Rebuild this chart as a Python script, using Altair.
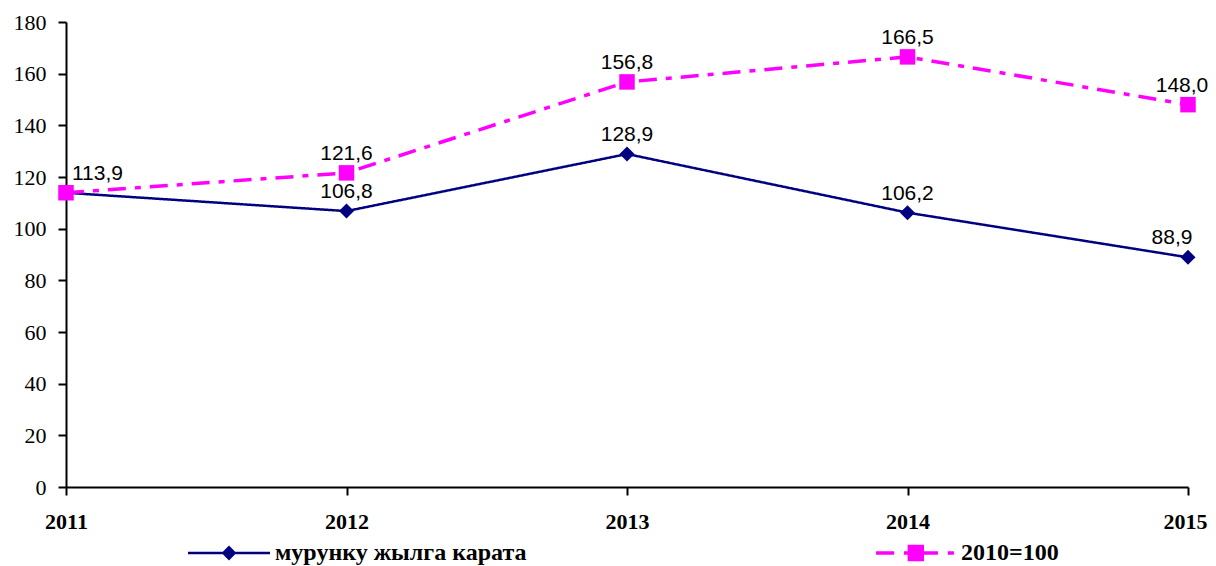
import altair as alt
import pandas as pd

years = ["2011", "2012", "2013", "2014", "2015"]
series_names = ["мурунку жылга карата", "2010=100"]
prev_year = [113.9, 106.8, 128.9, 106.2, 88.9]
base_2010 = [113.9, 121.6, 156.8, 166.5, 148.0]
y_ticks = [0, 20, 40, 60, 80, 100, 120, 140, 160, 180]

rows = []
for i, y in enumerate(years):
    rows.append({"year": y, "value": prev_year[i], "series": series_names[0], "k": 0})
for i, y in enumerate(years):
    rows.append({"year": y, "value": base_2010[i], "series": series_names[1], "k": 1})
df = pd.DataFrame(rows)

NAVY = "#000080"
MAG = "#FF00FF"
S0, S1 = series_names
DASH = [18, 9, 6, 9]

color_scale = alt.Scale(domain=series_names, range=[NAVY, MAG])

x_enc = alt.X(
    "year:O",
    scale=alt.Scale(type="point", padding=0),
    sort=years,
    axis=alt.Axis(
        title=None,
        labelAngle=0,
        labelFont="Liberation Serif",
        labelFontWeight="bold",
        labelFontSize=22,
        labelColor="black",
        labelPadding=16,
        labelOffset={"condition": {"test": "datum.value === '2015'", "value": -3}, "value": 0},
        tickSize=8,
        tickWidth=2,
        tickColor="black",
        domainColor="black",
        domainWidth=2,
        grid=False,
    ),
)
y_enc = alt.Y(
    "value:Q",
    scale=alt.Scale(domain=[0, 180], nice=False, zero=True),
    axis=alt.Axis(
        title=None,
        values=y_ticks,
        labelFont="Liberation Serif",
        labelFontSize=22,
        labelColor="black",
        labelPadding=12,
        tickSize=8,
        tickWidth=2,
        tickColor="black",
        domainColor="black",
        domainWidth=2,
        grid=False,
    ),
)

base = alt.Chart(df)

lines = base.mark_line().encode(
    x=x_enc,
    y=y_enc,
    color=alt.Color("series:N", scale=color_scale, legend=None),
    strokeDash=alt.StrokeDash(
        "series:N",
        scale=alt.Scale(domain=series_names, range=[[1, 0], DASH]),
        legend=None,
    ),
    strokeWidth=alt.StrokeWidth(
        "series:N", scale=alt.Scale(domain=series_names, range=[2.5, 3.5]), legend=None
    ),
    detail="series:N",
)

points = base.mark_point(filled=True, opacity=1).encode(
    x=x_enc,
    y=y_enc,
    color=alt.Color("series:N", scale=color_scale, legend=None),
    shape=alt.Shape(
        "series:N", scale=alt.Scale(domain=series_names, range=["diamond", "square"]), legend=None
    ),
    size=alt.Size("series:N", scale=alt.Scale(domain=series_names, range=[225, 240]), legend=None),
    order=alt.Order("k:Q"),
)

# legend-only layers (no marks drawn: data filtered out); symbols are filled paths
def leg(x, fill):
    return alt.Legend(
        title=None,
        orient="none",
        legendX=x,
        legendY=490,
        labelFont="Liberation Serif",
        labelFontWeight="bold",
        labelFontSize=24,
        labelColor="black",
        labelOffset=5,
        labelLimit=600,
        symbolSize=6724,
        symbolStrokeWidth=0,
        symbolFillColor=fill,
        symbolStrokeColor=fill,
        symbolOpacity=1,
    )

path_navy = "M-1,-0.03H1V0.03H-1Z M0,-0.18L0.18,0L0,0.18L-0.18,0Z"
path_mag = ("M-0.95,-0.043H-0.51V0.043H-0.95Z M-0.27,-0.043H0.56V0.043H-0.27Z "
            "M-0.18,-0.2H0.22V0.2H-0.18Z M0.8,-0.043H0.95V0.043H0.8Z")

legend_navy = base.transform_filter("false").mark_point(
    filled=True, size=6724, strokeWidth=0, color=NAVY, fill=NAVY, opacity=1
).encode(
    x=x_enc, y=y_enc,
    shape=alt.Shape("series:N", scale=alt.Scale(domain=[S0], range=[path_navy]), legend=leg(122, NAVY)),
)
legend_mag = base.transform_filter("false").mark_point(
    filled=True, size=6724, strokeWidth=0, color=MAG, fill=MAG, opacity=1
).encode(
    x=x_enc, y=y_enc,
    shape=alt.Shape("series:N", scale=alt.Scale(domain=[S1], range=[path_mag]), legend=leg(808, MAG)),
)

label_calc = "replace(format(datum.value, '.1f'), '.', ',')"
text_common = dict(font="Liberation Sans", fontSize=21, color="black", baseline="alphabetic")

labels_mid = base.transform_filter(
    f"!(datum.series === '{S0}' && (datum.year === '2011' || datum.year === '2015'))"
    f" && !(datum.series === '{S1}' && (datum.year === '2011' || datum.year === '2015'))"
).transform_calculate(label=label_calc).mark_text(align="center", dy=-13, **text_common).encode(
    x=x_enc, y=y_enc, text="label:N"
)
labels_first = base.transform_filter(
    f"datum.series === '{S1}' && datum.year === '2011'"
).transform_calculate(label=label_calc).mark_text(align="left", dx=6, dy=-13, **text_common).encode(
    x=x_enc, y=y_enc, text="label:N"
)
labels_last_navy = base.transform_filter(
    f"datum.series === '{S0}' && datum.year === '2015'"
).transform_calculate(label=label_calc).mark_text(align="center", dx=-16, dy=-13, **text_common).encode(
    x=x_enc, y=y_enc, text="label:N"
)
labels_last_mag = base.transform_filter(
    f"datum.series === '{S1}' && datum.year === '2015'"
).transform_calculate(label=label_calc).mark_text(align="center", dx=-6, dy=-13, **text_common).encode(
    x=x_enc, y=y_enc, text="label:N"
)

chart = alt.layer(
    lines, points, labels_mid, labels_first, labels_last_navy, labels_last_mag, legend_navy, legend_mag
).resolve_scale(
    shape="independent"
).properties(
    width=1122,
    height=465,
    autosize=alt.AutoSizeParams(type="none"),
    padding={"left": 58, "top": 14, "right": 20, "bottom": 80},
    background="white",
).configure_view(stroke=None)

chart.save("out.html", embed_options={"renderer": "svg", "actions": False})
